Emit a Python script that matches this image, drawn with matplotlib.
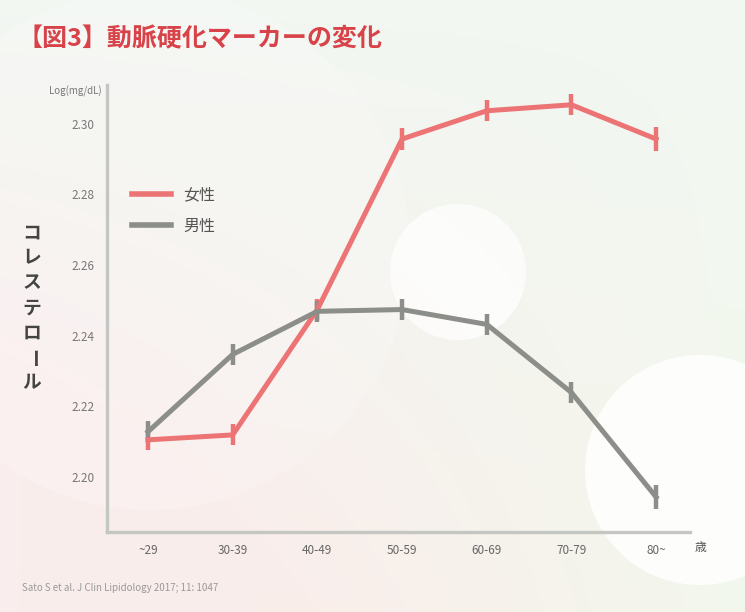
import numpy as np
import matplotlib.pyplot as plt
from matplotlib.patches import Circle
from matplotlib.lines import Line2D

plt.rcParams["font.family"] = ["Noto Sans CJK JP", "DejaVu Sans"]

ages = ["~29", "30-39", "40-49", "50-59", "60-69", "70-79", "80~"]
female = [2.2105, 2.2119, 2.2474, 2.2957, 2.3037, 2.3054, 2.2957]
male = [2.2128, 2.2347, 2.2469, 2.2474, 2.2432, 2.2239, 2.1943]
female_err = [0.003, 0.003, 0.003, 0.003, 0.003, 0.003, 0.0035]
male_err = [0.003, 0.003, 0.003, 0.003, 0.003, 0.003, 0.0035]
yticks = [2.20, 2.22, 2.24, 2.26, 2.28, 2.30]

red = "#ec7474"
gray = "#8c8e8a"

W, H = 745, 612
fig = plt.figure(figsize=(W / 100, H / 100), dpi=100)

# background: soft gradient + pale circles
bg = fig.add_axes([0, 0, 1, 1], zorder=-1)
yy, xx = np.mgrid[0:1:200j, 0:1:200j]
top = np.array([0.95, 0.97, 0.95])
pink = np.array([0.98, 0.93, 0.93])
green = np.array([0.95, 0.97, 0.92])
w_pink = np.clip(yy * (1 - xx) * 1.6, 0, 1)[..., None]
w_green = np.clip(yy * xx * 1.4, 0, 1)[..., None]
img = top * (1 - w_pink - w_green * 0.6) + pink * w_pink + green * w_green * 0.6
bg.imshow(np.clip(img, 0, 1), extent=[0, W, H, 0], aspect="auto")
for cx, cy, r, a in [(458, 272, 68, 0.75), (700, 470, 115, 0.85), (150, 250, 260, 0.18)]:
    bg.add_patch(Circle((cx, cy), r, color="white", alpha=a, lw=0))
bg.set_xlim(0, W)
bg.set_ylim(H, 0)
bg.axis("off")

ax = fig.add_axes([107 / W, 1 - 532 / H, (690 - 107) / W, (532 - 85) / H])
ax.patch.set_alpha(0)
x = np.arange(len(ages))

ax.errorbar(x, female, yerr=female_err, color=red, lw=3.6, capsize=0,
            elinewidth=3.2, zorder=3)
ax.errorbar(x, male, yerr=male_err, color=gray, lw=3.6, capsize=0,
            elinewidth=3.2, zorder=3)

ax.set_xlim(-0.484, 6.40)
ax.set_ylim(2.1844, 2.311)
ax.set_xticks(x)
ax.set_xticklabels(ages, fontsize=8.5, color="#666666")
ax.set_yticks(yticks)
ax.set_yticklabels([f"{v:.2f}" for v in yticks], fontsize=8.5, color="#777777")
ax.tick_params(length=0, pad=9)
for s in ["top", "right"]:
    ax.spines[s].set_visible(False)
for s in ["left", "bottom"]:
    ax.spines[s].set_color("#c4c6c2")
    ax.spines[s].set_linewidth(2.4)

handles = [Line2D([], [], color=red, lw=4), Line2D([], [], color=gray, lw=4)]
ax.legend(handles, ["女性", "男性"], frameon=False, fontsize=11.5,
          loc="upper left", bbox_to_anchor=(118 / W, 1 - 172 / H),
          bbox_transform=fig.transFigure, handlelength=2.4,
          labelspacing=0.9, labelcolor="#555555")

fig.text(18 / W, 1 - 39 / H, "【図3】動脈硬化マーカーの変化", fontsize=18,
         color="#d8434a", fontweight="bold", va="center", ha="left")
fig.text(75 / W, 1 - 91 / H, "Log(mg/dL)", fontsize=7, color="#777777",
         ha="center", va="center")
fig.text(700 / W, 1 - 548 / H, "歳", fontsize=8.5, color="#555555",
         ha="center", va="center")

# vertical y label
label = "コレステロール"
for i, ch in enumerate(label):
    yy_px = 233 + i * 25
    fig.text(32 / W, 1 - yy_px / H, ch, fontsize=13.5, color="#444444",
             fontweight="bold", ha="center", va="center",
             rotation=-90 if ch == "ー" else 0)

fig.text(22 / W, 1 - 588 / H, "Sato S et al. J Clin Lipidology 2017; 11: 1047",
         fontsize=7, color="#999999", ha="left", va="center")

fig.savefig("out.png", dpi=100)
